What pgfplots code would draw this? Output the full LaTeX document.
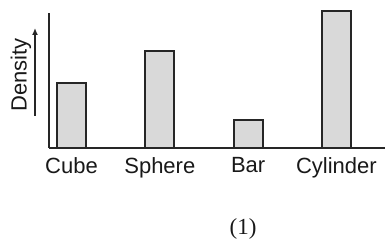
\documentclass[border=0pt]{standalone}
\usepackage{pgfplots}
\pgfplotsset{compat=1.18}
\usepackage{fontspec}
\setmainfont{Liberation Serif}
\setsansfont{Liberation Sans}
\usetikzlibrary{arrows.meta}
\begin{document}
\begin{tikzpicture}
\useasboundingbox (0,0) rectangle (388pt,-248pt);
\begin{axis}[
  at={(49pt,-148pt)}, anchor=south west,
  scale only axis, width=336pt, height=135pt,
  xmin=-0.255, xmax=3.55, ymin=0, ymax=135,
  axis x line=bottom, axis y line=left,
  axis line style={-, draw=black!85, line width=1.6pt},
  ytick=\empty,
  xtick=data,
  xticklabels={Cube,Sphere,Bar,Cylinder},
  major tick length=0pt,
  xticklabel style={font=\sffamily\fontsize{22}{22}\selectfont, text=black!90, inner sep=0pt, yshift=-9pt},
  clip=false,
]
\addplot[ybar, bar width=29pt, fill=black!15, draw=black!85, line width=2pt]
  coordinates {(0,65) (1,97) (2,28) (3,137)};
\end{axis}
\node[rotate=90, font=\sffamily\fontsize{22}{22}\selectfont, text=black!90, inner sep=0pt] at (21pt,-75pt) {Density};
\draw[black!85, line width=1.3pt, -{Latex[length=7pt,width=6pt]}] (35pt,-116pt) -- (35pt,-28pt);
\node[font=\fontsize{23}{23}\selectfont, text=black!90, inner sep=0pt] at (243pt,-229pt) {(1)};
\end{tikzpicture}
\end{document}
